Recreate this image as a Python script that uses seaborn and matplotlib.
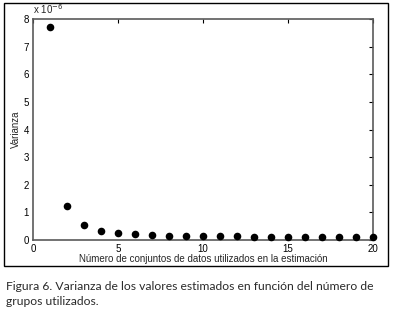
import matplotlib
matplotlib.use('Agg')
import matplotlib.pyplot as plt
import seaborn as sns
import pandas as pd
from matplotlib.patches import Rectangle

# Datos (varianza en unidades de 1e-6)
conjuntos = list(range(1, 21))
varianza = [7.72, 1.22, 0.55, 0.31, 0.24, 0.21, 0.18, 0.16, 0.15, 0.14,
            0.13, 0.13, 0.12, 0.12, 0.11, 0.11, 0.11, 0.10, 0.10, 0.10]
x_ticks = [0, 5, 10, 15, 20]
y_ticks = [0, 1, 2, 3, 4, 5, 6, 7, 8]

df = pd.DataFrame({'conjuntos': conjuntos, 'varianza': varianza})

sns.set_style('white')
plt.rcParams['font.family'] = ['Liberation Sans', 'DejaVu Sans']

W, H = 393, 312
fig = plt.figure(figsize=(W / 100, H / 100), dpi=100)
ax = fig.add_axes([33 / W, 1 - 240 / H, 340 / W, 221 / H])

sns.scatterplot(data=df, x='conjuntos', y='varianza', color='black',
                s=30, edgecolor='black', linewidth=0, ax=ax, clip_on=False, zorder=3)

ax.set_xlim(0, 20)
ax.set_ylim(0, 8)
ax.set_xticks(x_ticks)
ax.set_yticks(y_ticks)
ax.tick_params(direction='in', length=3, width=0.8, labelsize=7, colors='black',
               top=True, right=True, pad=3)
for sp in ax.spines.values():
    sp.set_color('#5a5a5a')
    sp.set_linewidth(1.2)
ax.set_xlabel('Número de conjuntos de datos utilizados en la estimación', fontsize=7, labelpad=0)
ax.set_ylabel('Varianza', fontsize=7, labelpad=2)
ax.text(0, 1.015, 'x 10$^{-6}$', transform=ax.transAxes, fontsize=7,
        ha='left', va='bottom')

# marco exterior de la figura
fig.patches.append(Rectangle((4 / W, 1 - 266 / H), 384 / W, 263 / H,
                             transform=fig.transFigure, fill=False,
                             edgecolor='black', linewidth=1.0))

fig.text(6 / W, 1 - 294 / H,
         'Figura 6. Varianza de los valores estimados en función del número de\ngrupos utilizados.',
         fontsize=8.7, family=['Lato', 'DejaVu Sans'], color='#2a2a2a',
         ha='left', va='center', linespacing=1.4)

fig.savefig('out.png', dpi=100)
